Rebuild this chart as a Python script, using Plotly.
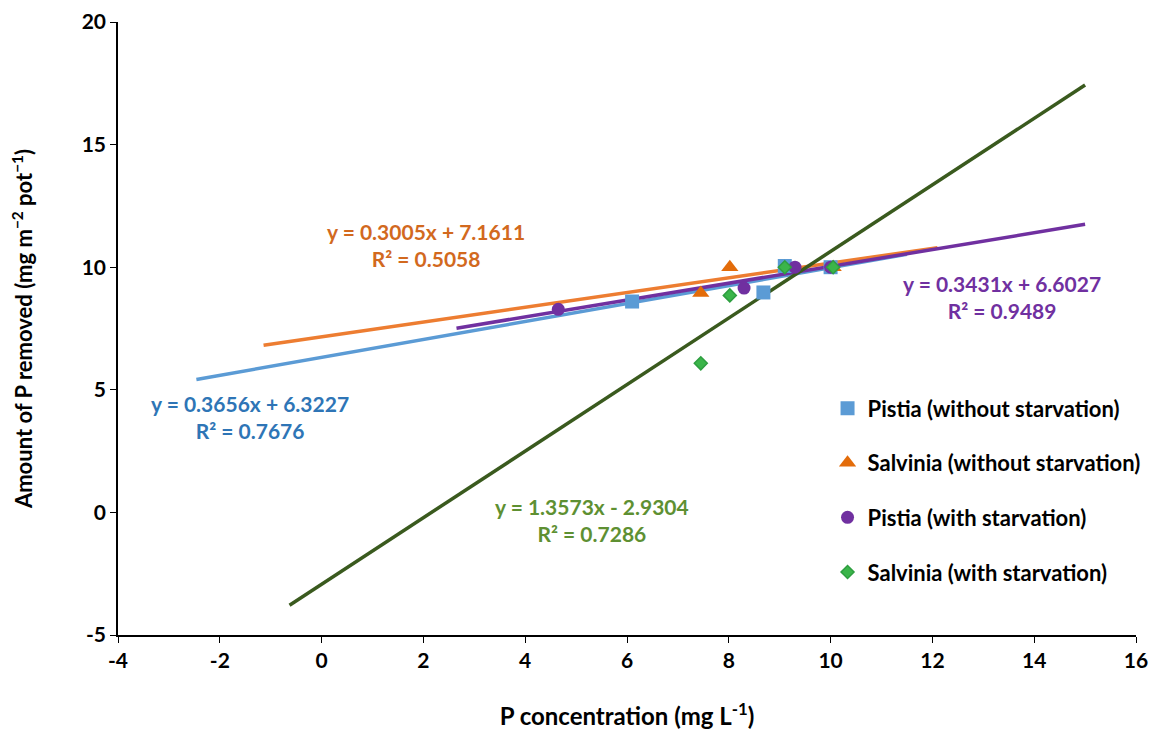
import plotly.graph_objects as go

# Scatter data
pistia_wo_x = [6.1, 8.68, 9.1, 10.0]
pistia_wo_y = [8.6, 8.97, 10.05, 10.0]
salv_wo_x = [7.45, 8.02, 10.05]
salv_wo_y = [8.95, 10.0, 10.0]
pistia_w_x = [4.65, 8.3, 9.3, 10.0]
pistia_w_y = [8.28, 9.15, 10.0, 10.0]
salv_w_x = [7.45, 8.02, 9.1, 10.05]
salv_w_y = [6.08, 8.85, 10.0, 10.0]

# Trendline coefficients and extents
slopes = [0.3656, 0.3005, 0.3431, 1.3573]
intercepts = [6.3227, 7.1611, 6.6027, -2.9304]
line_x0 = [-2.46, -1.14, 2.65, -0.63]
line_x1 = [11.5, 12.1, 15.0, 15.0]
eq_texts = ["y = 0.3656x + 6.3227<br>R² = 0.7676",
            "y = 0.3005x + 7.1611<br>R² = 0.5058",
            "y = 0.3431x + 6.6027<br>R² = 0.9489",
            "y = 1.3573x - 2.9304<br>R² = 0.7286"]
eq_pos_x = [-1.4, 2.06, 13.36, 5.32]
eq_pos_y = [3.9, 10.89, 8.77, -0.33]

x_ticks = [-4, -2, 0, 2, 4, 6, 8, 10, 12, 14, 16]
x_tick_text = ["-4", "-2", "0", "2", "4", "6", "8", "10", "12", "14", "16"]
y_ticks = [-5, 0, 5, 10, 15, 20]
y_tick_text = ["-5", "0", "5", "10", "15", "20"]

names = ["Pistia (without starvation)", "Salvinia (without starvation)",
         "Pistia (with starvation)", "Salvinia (with starvation)"]
marker_colors = ["#5B9BD5", "#E36C0A", "#7030A0", "#3BB54A"]
line_colors = ["#5B9BD5", "#ED7D31", "#7030A0", "#3A5A1E"]
text_colors = ["#2E75B6", "#D2691E", "#7030A0", "#5E9032"]
symbols = ["square", "triangle-up", "circle", "diamond"]
sizes = [14, 15, 13, 10]

FONT = "Lato, 'Open Sans', sans-serif"

fig = go.Figure()

# trendlines
for i in [0, 1, 2, 3]:
    xs = [line_x0[i], line_x1[i]]
    ys = [slopes[i] * x + intercepts[i] for x in xs]
    fig.add_trace(go.Scatter(x=xs, y=ys, mode="lines",
                             line=dict(color=line_colors[i], width=3.5),
                             showlegend=False, hoverinfo="skip"))

xs_all = [pistia_wo_x, salv_wo_x, pistia_w_x, salv_w_x]
ys_all = [pistia_wo_y, salv_wo_y, pistia_w_y, salv_w_y]
for i in range(4):
    mline = dict(width=0)
    if i == 3:
        mline = dict(width=1.5, color="#2E9E40")
    fig.add_trace(go.Scatter(x=xs_all[i], y=ys_all[i], mode="markers", name=names[i],
                             legendgroup=str(i),
                             marker=dict(symbol=symbols[i], size=sizes[i],
                                         color=marker_colors[i], line=mline)))

for i in range(4):
    fig.add_annotation(x=eq_pos_x[i], y=eq_pos_y[i], text=eq_texts[i], showarrow=False,
                       font=dict(family=FONT, size=21, color=text_colors[i], weight="bold"),
                       align="center")

fig.update_layout(
    width=1160, height=733,
    margin=dict(l=110, r=32, t=14, b=106, autoexpand=False),
    paper_bgcolor="white", plot_bgcolor="white",
    font=dict(family=FONT, size=18, color="black", weight="bold"),
    legend=dict(x=0.697, y=0.404, xanchor="left", yanchor="top",
                font=dict(family=FONT, size=22, color="black", weight="bold"),
                tracegroupgap=23, itemwidth=30, bgcolor="rgba(0,0,0,0)"),
    xaxis=dict(range=[-4, 16], tickvals=x_ticks, ticktext=x_tick_text,
               showgrid=False, zeroline=False, automargin=False,
               showline=True, linecolor="black", linewidth=1.5,
               ticks="outside", ticklen=6, tickcolor="black", tickwidth=1.2,
               tickfont=dict(family=FONT, size=21, weight="bold"),
               title=dict(text="P concentration (mg L<sup>-1</sup>)",
                          font=dict(family=FONT, size=24, weight="bold"), standoff=37)),
    yaxis=dict(range=[-5, 20], tickvals=y_ticks, ticktext=y_tick_text,
               showgrid=False, zeroline=False, automargin=False,
               showline=True, linecolor="black", linewidth=1.5,
               ticks="outside", ticklen=6, tickcolor="black", tickwidth=1.2,
               tickfont=dict(family=FONT, size=21, weight="bold"),
               title=dict(text="Amount of P removed (mg m<sup>−2</sup> pot<sup>−1</sup>)",
                          font=dict(family=FONT, size=22, weight="bold"), standoff=45)),
)

fig.write_html("out.html")
